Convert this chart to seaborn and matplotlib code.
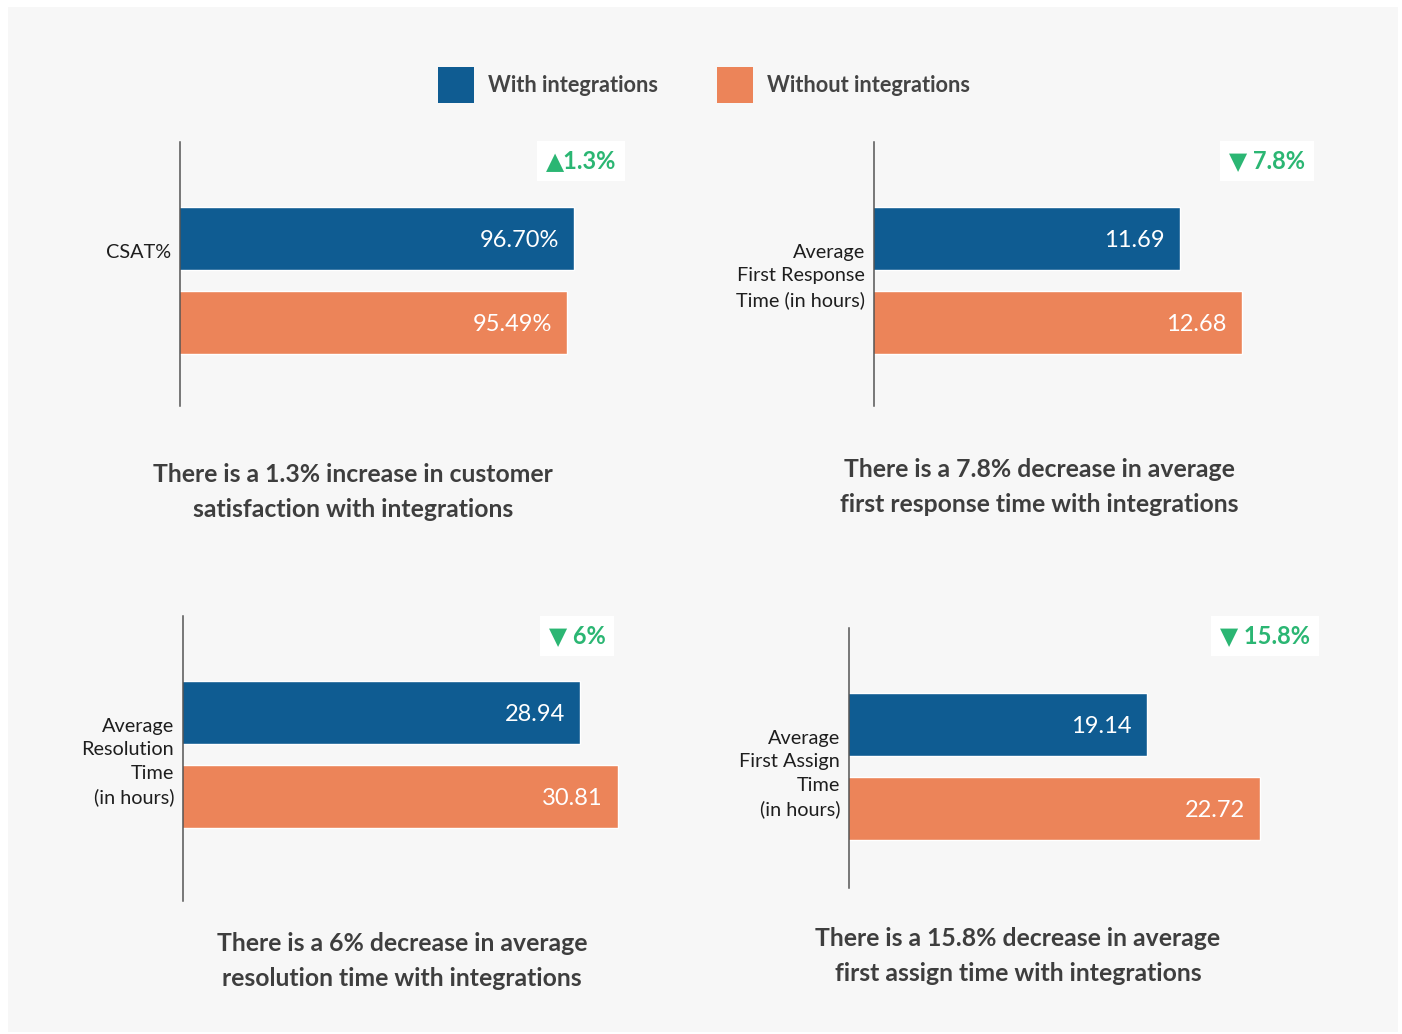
import matplotlib
matplotlib.use("Agg")
import matplotlib.pyplot as plt
from matplotlib.patches import Rectangle
import seaborn as sns
import pandas as pd

# ---------------- data ----------------
groups = ["With integrations", "Without integrations"]
metric_labels = ["CSAT%", "Average\nFirst Response\nTime (in hours)",
                 "Average\nResolution\nTime\n(in hours)", "Average\nFirst Assign\nTime\n(in hours)"]
with_vals = [96.70, 11.69, 28.94, 19.14]
without_vals = [95.49, 12.68, 30.81, 22.72]
value_texts_with = ["96.70%", "11.69", "28.94", "19.14"]
value_texts_without = ["95.49%", "12.68", "30.81", "22.72"]
badges = ["\u25B21.3%", "\u25BC 7.8%", "\u25BC 6%", "\u25BC 15.8%"]
captions = ["There is a 1.3% increase in customer\nsatisfaction with integrations",
            "There is a 7.8% decrease in average\nfirst response time with integrations",
            "There is a 6% decrease in average\nresolution time with integrations",
            "There is a 15.8% decrease in average\nfirst assign time with integrations"]
x_ranges = [(28.6, 106.4), (6.80, 13.93), (9.40, 31.4), (9.70, 24.62)]

# ---------------- style ----------------
BLUE = "#0f5c92"
ORANGE = "#ec8459"
GREEN = "#2bb673"
BG = "#f7f7f7"
TXT = "#3e3e3e"
W, H = 1402, 1034

sns.set_theme(style="white")
plt.rcParams["font.family"] = ["Lato", "DejaVu Sans"]

fig = plt.figure(figsize=(W / 100, H / 100), dpi=100)
fig.patch.set_facecolor("white")
fig.patches.append(Rectangle((8 / W, 1 - 1032 / H), (1398 - 8) / W, (1032 - 7) / H,
                             transform=fig.transFigure, facecolor=BG, edgecolor="none", zorder=-5))

def fx(px):
    return px / W

def fy(py):
    return 1 - py / H

# axes boxes in pixels: left, right, top, bottom
boxes = [(180, 630, 142, 406), (874, 1320, 142, 406), (183, 630, 616, 901), (849, 1320, 628, 888)]
bar_tops = [207, 207, 681, 693]
badge_pos = [(581, 161), (1267, 161), (577, 636), (1265, 636)]
caption_pos = [(353, 492), (1039, 487), (402, 961), (1018, 956)]

for i in range(4):
    L, R, T, B = boxes[i]
    ax = fig.add_axes([fx(L), fy(B), (R - L) / W, (B - T) / H])
    ax.set_facecolor("none")
    ax.set_zorder(1)
    df = pd.DataFrame({"group": groups, "value": [with_vals[i], without_vals[i]]})
    sns.barplot(data=df, x="value", y="group", hue="group", palette=[BLUE, ORANGE],
                width=0.75, saturation=1, errorbar=None, legend=False, ax=ax, orient="h")
    c0 = bar_tops[i] + 31.5
    top_v = -(c0 - T) / 84
    bot_v = 1 + (B - (c0 + 84)) / 84
    ax.set_ylim(bot_v, top_v)
    ax.set_xlim(*x_ranges[i])
    ax.set_xticks([])
    ax.set_yticks([])
    ax.set_xlabel("")
    ax.set_ylabel("")
    for s in ["top", "right", "bottom"]:
        ax.spines[s].set_visible(False)
    ax.spines["left"].set_color("#555555")
    ax.spines["left"].set_linewidth(1.1)
    for j, (v, t) in enumerate([(with_vals[i], value_texts_with[i]), (without_vals[i], value_texts_without[i])]):
        ax.annotate(t, xy=(v, j), xytext=(-15, 0), textcoords="offset pixels",
                    ha="right", va="center_baseline", color="white", fontsize=17)
    # category label
    fig.text(fx(L - 9), fy(bar_tops[i] + 37), metric_labels[i], ha="right", va="top",
             multialignment="right", fontsize=14.3, color="#1e1e1e", linespacing=1.46)
    # badge
    bx, by = badge_pos[i]
    fig.text(fx(bx), fy(by), badges[i], ha="center", va="center", fontsize=17,
             fontweight="bold", color=GREEN,
             bbox=dict(boxstyle="square,pad=0.38", facecolor="white", edgecolor="none"))
    # caption
    cx, cy = caption_pos[i]
    fig.text(fx(cx), fy(cy), captions[i], ha="center", va="center", fontsize=17.8,
             fontweight="bold", color=TXT, linespacing=1.66)

# legend
for (x0, label, col) in [(438, groups[0], BLUE), (717, groups[1], ORANGE)]:
    fig.patches.append(Rectangle((fx(x0), fy(103)), 36 / W, 36 / H, transform=fig.transFigure,
                                 facecolor=col, edgecolor="none", zorder=2))
    fig.text(fx(x0 + 50), fy(85), label, ha="left", va="center", fontsize=15.7,
             fontweight="bold", color="#444444")

fig.savefig("out.png", dpi=100, facecolor="white")
